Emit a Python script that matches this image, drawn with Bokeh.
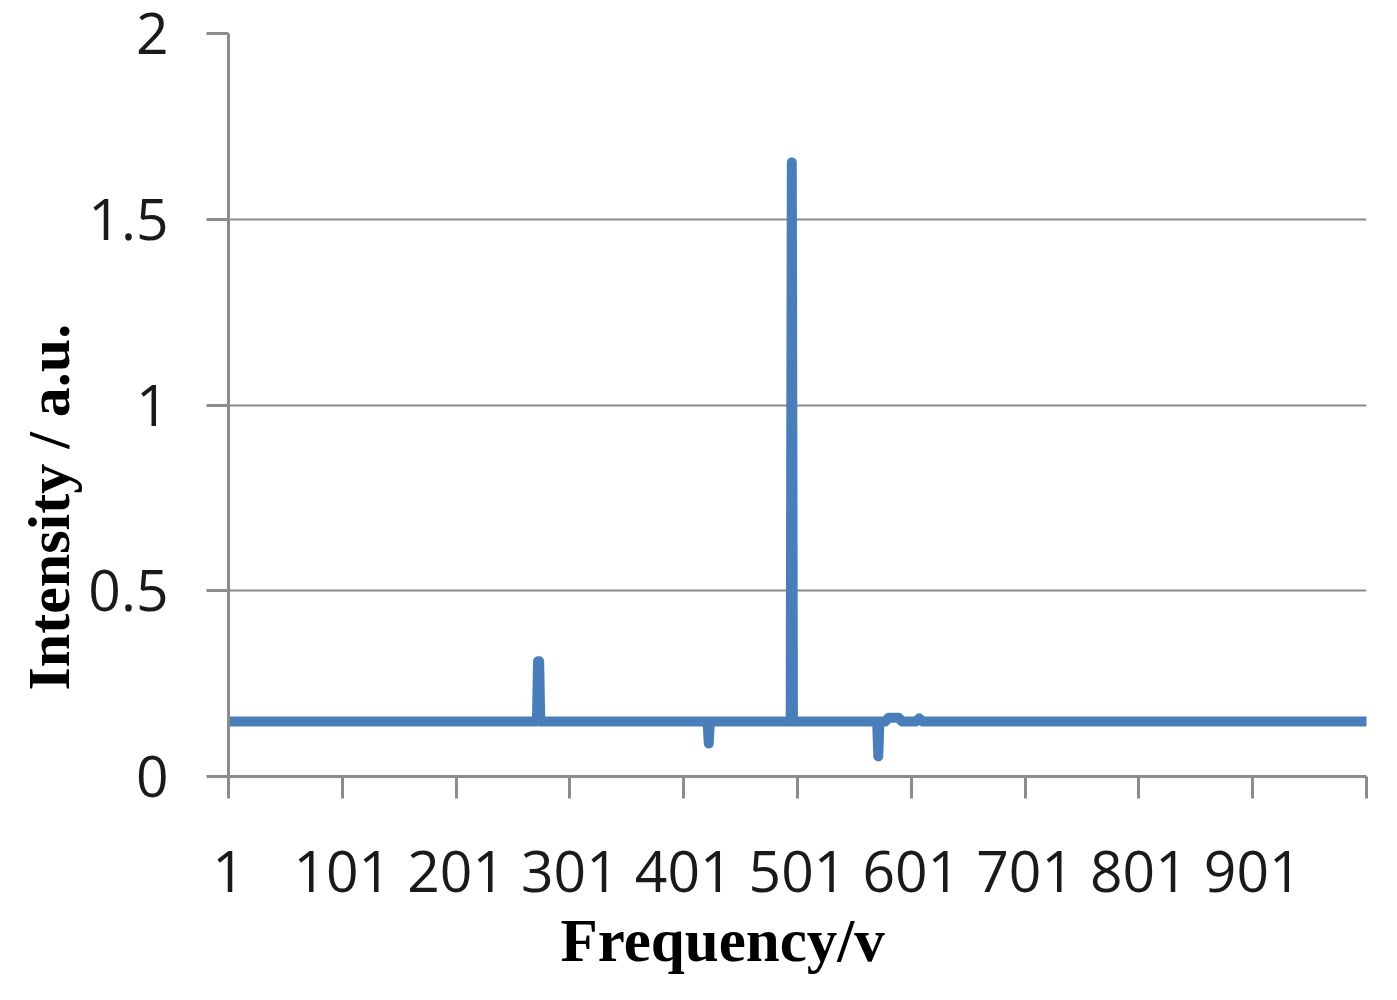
from bokeh.plotting import figure
from bokeh.models import Range1d, FixedTicker, Title
from bokeh.embed import file_html
from bokeh.resources import INLINE

# data (vertices of the spectrum line)
freq = [1, 272, 273, 274, 275, 422, 423, 424, 495, 496, 497, 571, 572, 573,
        578, 581, 590, 593, 605, 608, 611, 1001]
intensity = [0.148, 0.148, 0.31, 0.31, 0.148, 0.148, 0.089, 0.148, 0.148, 1.653, 0.148,
             0.148, 0.054, 0.148, 0.148, 0.158, 0.158, 0.148, 0.148, 0.156, 0.148, 0.148]

x_ticks = [1, 101, 201, 301, 401, 501, 601, 701, 801, 901, 1001]
x_tick_labels = ["1", "101", "201", "301", "401", "501", "601", "701", "801", "901", ""]
y_ticks = [0, 0.5, 1, 1.5, 2]

p = figure(width=1389, height=992, output_backend="svg", toolbar_location=None,
           x_range=Range1d(1, 1001), y_range=Range1d(0, 2),
           min_border_left=228, min_border_right=23, min_border_top=33, min_border_bottom=216)
p.outline_line_color = None
p.background_fill_color = "white"

p.line(freq, intensity, line_color="#4a7ebb", line_width=10,
       line_cap="round", line_join="round")

axis_col = "#8c8c8c"
p.xaxis.ticker = FixedTicker(ticks=x_ticks)
p.xaxis.major_label_overrides = {t: l for t, l in zip(x_ticks, x_tick_labels)}
p.yaxis.ticker = FixedTicker(ticks=y_ticks)
p.yaxis.major_label_overrides = {0: "0", 0.5: "0.5", 1: "1", 1.5: "1.5", 2: "2"}

for ax in (p.xaxis[0], p.yaxis[0]):
    ax.axis_line_color = axis_col
    ax.axis_line_width = 3
    ax.major_tick_line_color = axis_col
    ax.major_tick_line_width = 3
    ax.major_tick_in = 0
    ax.major_tick_out = 22
    ax.minor_tick_line_color = None
    ax.major_label_text_font = "Open Sans"
    ax.major_label_text_font_size = "57px"
    ax.major_label_text_color = "#1a1a1a"
p.xaxis.major_label_standoff = 52
p.yaxis.major_label_standoff = 38

p.xgrid.grid_line_color = None
p.ygrid.grid_line_color = axis_col
p.ygrid.grid_line_width = 2

xt = Title(text="Frequency/v", align="left", offset=332, standoff=20,
           text_font="Liberation Serif", text_font_style="bold", text_font_size="61px",
           text_color="black")
yt = Title(text="Intensity / a.u.", align="left", offset=86, standoff=8,
           text_font="Liberation Serif", text_font_style="bold", text_font_size="60px",
           text_color="black")
p.add_layout(xt, "below")
p.add_layout(yt, "left")

open("out.html", "w").write(file_html(p, INLINE))
